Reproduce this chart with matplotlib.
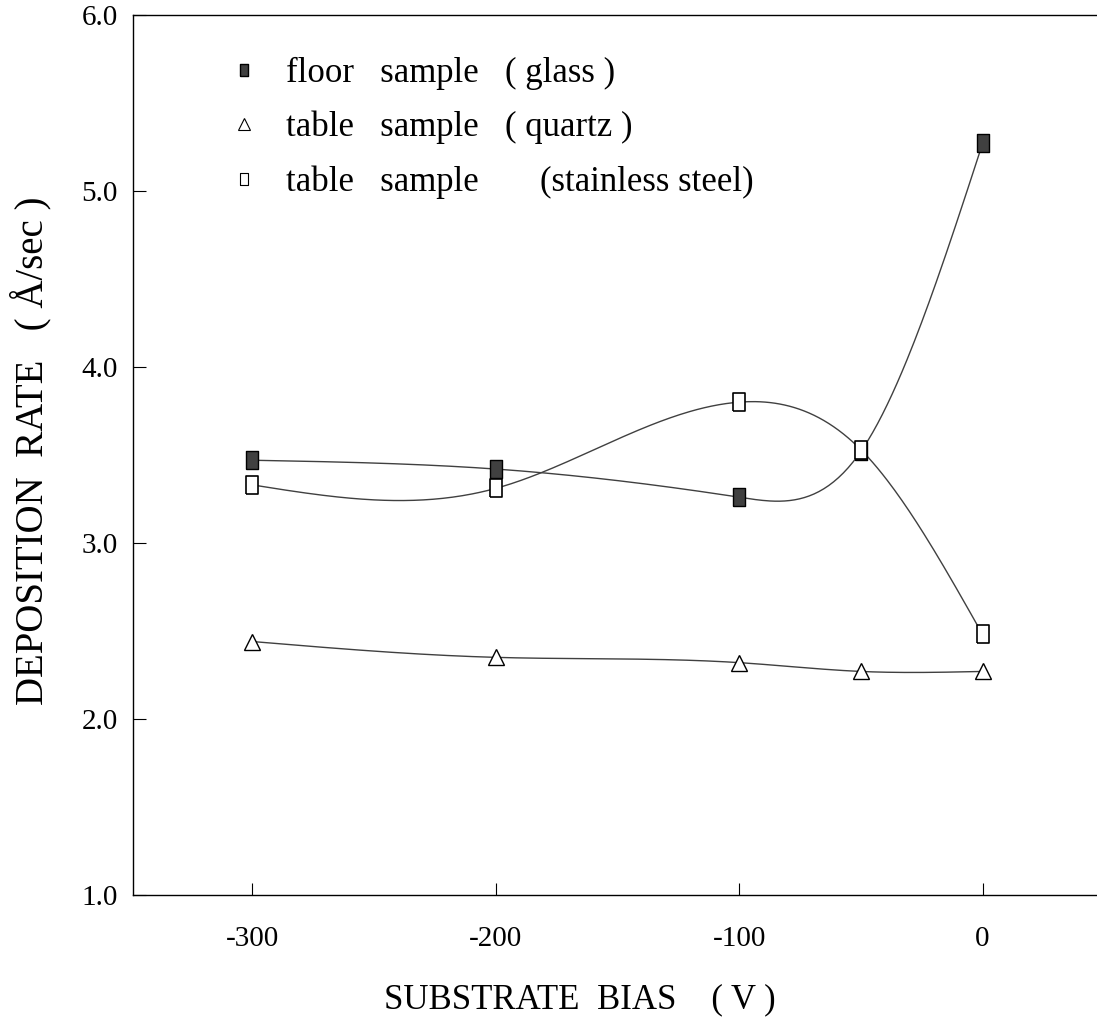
import numpy as np
import matplotlib
matplotlib.use("Agg")
from matplotlib import pyplot as plt
from matplotlib.lines import Line2D

# data
BIAS = [-300, -200, -100, -50, 0]
FLOOR_GLASS = [3.47, 3.42, 3.26, 3.52, 5.27]
TABLE_QUARTZ = [2.44, 2.35, 2.32, 2.27, 2.27]
TABLE_STEEL = [3.33, 3.31, 3.80, 3.53, 2.48]

X_TICKS = [-300, -200, -100, 0]
Y_TICKS = [1.0, 2.0, 3.0, 4.0, 5.0, 6.0]
LABELS = ["floor   sample   ( glass )",
          "table   sample   ( quartz )",
          "table   sample       (stainless steel)"]

plt.rcParams["font.family"] = ["Liberation Serif", "DejaVu Serif"]

RECT = [(-0.7, -1), (0.7, -1), (0.7, 1), (-0.7, 1), (-0.7, -1)]


def smooth(x, y, n=300):
    # natural cubic spline, only used to draw the connecting curve
    x = np.asarray(x, float)
    y = np.asarray(y, float)
    k = len(x)
    h = np.diff(x)
    A = np.zeros((k, k))
    b = np.zeros(k)
    A[0, 0] = A[-1, -1] = 1
    for i in range(1, k - 1):
        A[i, i - 1] = h[i - 1]
        A[i, i] = 2 * (h[i - 1] + h[i])
        A[i, i + 1] = h[i]
        b[i] = 6 * ((y[i + 1] - y[i]) / h[i] - (y[i] - y[i - 1]) / h[i - 1])
    M = np.linalg.solve(A, b)
    xs = np.linspace(x[0], x[-1], n)
    idx = np.clip(np.searchsorted(x, xs) - 1, 0, k - 2)
    x0, x1 = x[idx], x[idx + 1]
    hh = x1 - x0
    t0, t1 = x1 - xs, xs - x0
    ys = (M[idx] * t0 ** 3 + M[idx + 1] * t1 ** 3) / (6 * hh) \
        + (y[idx] / hh - M[idx] * hh / 6) * t0 \
        + (y[idx + 1] / hh - M[idx + 1] * hh / 6) * t1
    return xs, ys


fig = plt.figure(figsize=(10.97, 10.17), dpi=100)
ax = fig.add_axes([0.1212, 0.12, 0.8788, 0.8653])

for ys in (FLOOR_GLASS, TABLE_QUARTZ, TABLE_STEEL):
    sx, sy = smooth(BIAS, ys)
    ax.plot(sx, sy, color="0.25", lw=1.0, zorder=2)

ax.plot(BIAS, FLOOR_GLASS, linestyle="none", marker=RECT, markersize=13,
        markerfacecolor="0.25", markeredgecolor="black", zorder=3)
ax.plot(BIAS, TABLE_QUARTZ, linestyle="none", marker="^", markersize=11,
        markerfacecolor="white", markeredgecolor="black", markeredgewidth=1.0, zorder=3)
ax.plot(BIAS, TABLE_STEEL, linestyle="none", marker=RECT, markersize=13,
        markerfacecolor="white", markeredgecolor="black", markeredgewidth=1.2, zorder=4)

handles = [
    Line2D([], [], linestyle="none", marker=RECT, markersize=9,
           markerfacecolor="0.25", markeredgecolor="black"),
    Line2D([], [], linestyle="none", marker="^", markersize=8,
           markerfacecolor="white", markeredgecolor="black", markeredgewidth=0.8),
    Line2D([], [], linestyle="none", marker=RECT, markersize=9,
           markerfacecolor="white", markeredgecolor="black", markeredgewidth=0.8),
]
ax.legend(handles, LABELS, loc="upper left", bbox_to_anchor=(0.083, 0.968),
          frameon=False, fontsize=25, handlelength=1.0, handletextpad=0.7,
          labelspacing=0.6, borderaxespad=0)

ax.set_xlim(-349, 47)
ax.set_ylim(1.0, 6.0)
ax.set_xticks(X_TICKS)
ax.set_xticklabels([str(v) for v in X_TICKS])
ax.set_yticks(Y_TICKS)
ax.set_yticklabels(["%.1f" % v for v in Y_TICKS])
ax.tick_params(axis="both", direction="in", length=9, width=0.8, labelsize=21)
ax.tick_params(axis="x", pad=22)
ax.tick_params(axis="y", pad=11)
ax.spines["right"].set_visible(False)
for s in ("left", "top", "bottom"):
    ax.spines[s].set_linewidth(1.0)

ax.set_xlabel("SUBSTRATE  BIAS    ( V )", fontsize=25)
ax.xaxis.set_label_coords(0.464, -0.1)
ax.set_ylabel("DEPOSITION  RATE   ( Å/sec )", fontsize=28)
ax.yaxis.set_label_coords(-0.085, 0.505)

fig.savefig("out.png", dpi=100)
